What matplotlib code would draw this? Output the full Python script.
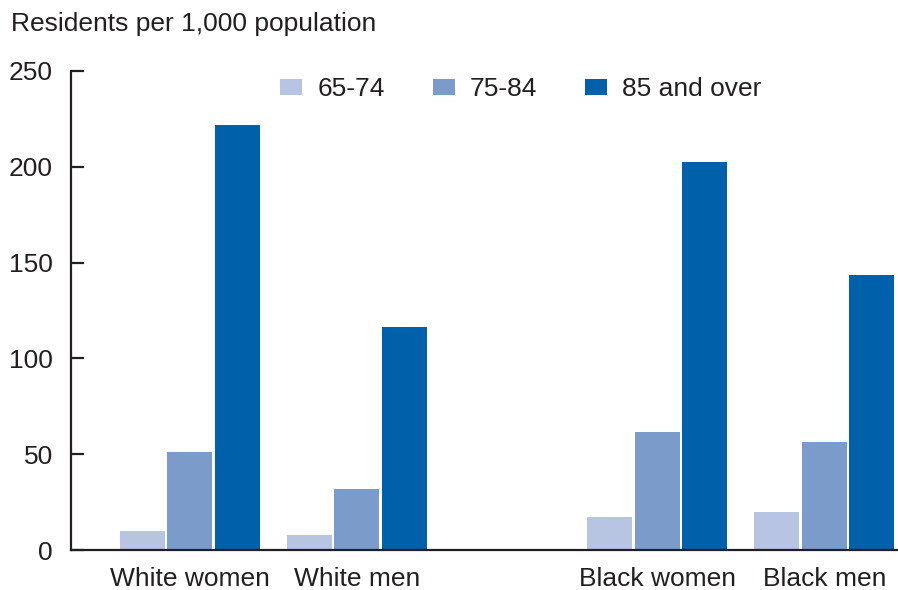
import matplotlib
matplotlib.use("Agg")
import matplotlib.pyplot as plt
import numpy as np
from matplotlib.patches import Patch

groups = ["White women", "White men", "Black women", "Black men"]
series = ["65-74", "75-84", "85 and over"]
age_65_74 = [10.1, 7.7, 17.2, 19.8]
age_75_84 = [51.0, 31.7, 61.7, 56.4]
age_85_over = [222.0, 116.5, 202.7, 143.5]
yticks = [0, 50, 100, 150, 200, 250]

colors = ["#b7c5e3", "#7b9bcb", "#0060aa"]
txt = "#231f20"
fs = 19

plt.rcParams["font.family"] = ["Liberation Sans", "DejaVu Sans"]

fig = plt.figure(figsize=(8.98, 5.90), dpi=100)
ax = fig.add_axes([71/898, 40/590, 1 - 71/898, (550-71)/590])

# group positions: wider gap between White and Black groups
pos = np.array([0.0, 1.0, 2.8, 3.8])
w = 0.269
step = 0.284
for i, (vals, c) in enumerate(zip([age_65_74, age_75_84, age_85_over], colors)):
    ax.bar(pos + (i - 1) * step, vals, width=w, color=c, label=series[i], linewidth=0)

ax.set_ylim(0, 250)
ax.set_xlim(-0.711, 4.241)
ax.set_yticks(yticks)
ax.set_xticks(pos)
ax.set_xticklabels(groups)
for s in ["top", "right"]:
    ax.spines[s].set_visible(False)
for s in ["left", "bottom"]:
    ax.spines[s].set_linewidth(1.6)
    ax.spines[s].set_color(txt)
ax.tick_params(axis="y", direction="in", length=9, width=1.6, color=txt,
               labelsize=fs, labelcolor=txt, pad=13)
ax.tick_params(axis="x", length=0, labelsize=fs, labelcolor=txt, pad=12)

fig.text(11/898, 1 - 12/590, "Residents per 1,000 population", fontsize=fs,
         color=txt, va="top", ha="left")

handles = [Patch(facecolor=c, edgecolor="none") for c in colors]
leg = ax.legend(handles, series, ncol=3, frameon=False, fontsize=fs,
                loc="center left", bbox_to_anchor=(280/898, 1 - 89/590),
                bbox_transform=fig.transFigure, borderaxespad=0, borderpad=0,
                handlelength=0.83, handleheight=0.57, handletextpad=0.58,
                columnspacing=1.82, labelcolor=txt)

fig.savefig("out.png", dpi=100)
